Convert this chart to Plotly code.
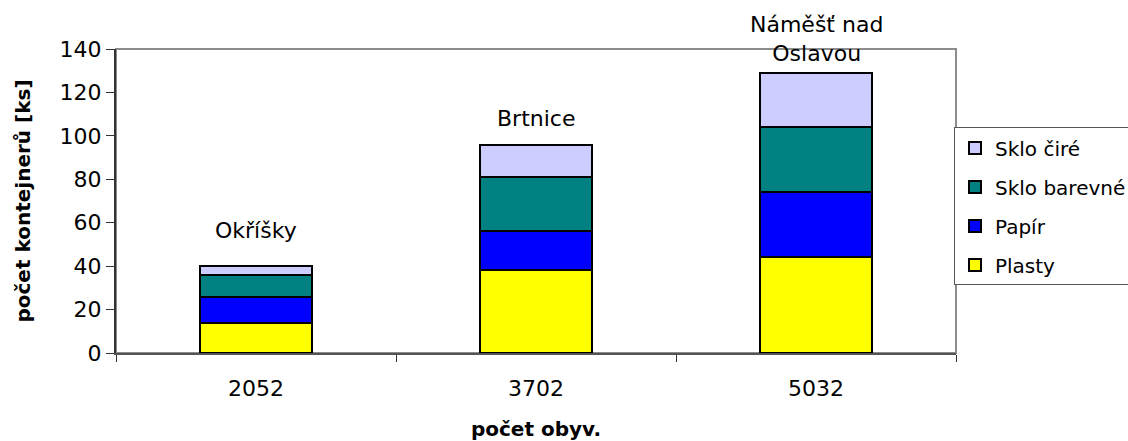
import plotly.graph_objects as go

# Containers per municipality (x axis: number of inhabitants)
obyvatele = ["2052", "3702", "5032"]
obce = ["Okříšky", "Brtnice", "Náměšť nad<br>Oslavou"]

plasty = [14, 38, 44]
papir = [12, 18, 30]
sklo_barevne = [10, 25, 30]
sklo_cire = [4, 15, 25]

serie = [
    ("Plasty", plasty, "#FFFF00"),
    ("Papír", papir, "#0000FF"),
    ("Sklo barevné", sklo_barevne, "#008080"),
    ("Sklo čiré", sklo_cire, "#CCCCFF"),
]

FONT = "DejaVu Sans, Arial, sans-serif"

fig = go.Figure()
for i, (name, vals, color) in enumerate(serie):
    fig.add_trace(go.Bar(
        x=obyvatele, y=vals, name=name, legendgroup=name,
        legendrank=len(serie) - i,
        marker=dict(color=color, line=dict(color="black", width=2)),
        width=0.4,
    ))

# municipality names above each stacked column
totals = [sum(v) for v in zip(plasty, papir, sklo_barevne, sklo_cire)]
label_shift = [21, 12, 5]
for idx, (t, name, dy) in enumerate(zip(totals, obce, label_shift)):
    fig.add_annotation(x=idx, y=t, text=name, showarrow=False, yanchor="bottom",
                       yshift=dy, font=dict(size=22, color="black", family=FONT))

# plot-area frame
fig.add_shape(type="rect", xref="paper", yref="paper", x0=0, x1=1, y0=0, y1=1,
              line=dict(color="#8c8c8c", width=2), layer="below")

fig.update_layout(
    barmode="stack",
    width=1128, height=441,
    margin=dict(l=116, r=172, t=49, b=88, autoexpand=False),
    paper_bgcolor="white", plot_bgcolor="white",
    font=dict(family=FONT, size=22, color="black"),
    showlegend=True,
    legend=dict(
        x=0.9976, xanchor="left", y=0.742, yanchor="top",
        traceorder="grouped", tracegroupgap=10,
        bordercolor="#555555", borderwidth=1, bgcolor="white",
        font=dict(size=20, family=FONT, color="black"),
        itemwidth=30,
    ),
    xaxis=dict(
        type="category", range=[-0.5, 2.5], tickson="boundaries",
        ticks="outside", ticklen=7,
        tickcolor="#333333", showline=True, linecolor="#555555", linewidth=2,
        ticklabelstandoff=15, showgrid=False,
        title=dict(text="<b>počet obyv.</b>", standoff=24,
                   font=dict(size=20, family=FONT)),
    ),
    yaxis=dict(
        range=[0, 140], dtick=20, ticks="outside", ticklen=8,
        tickcolor="#333333", showline=True, linecolor="#333333", linewidth=2,
        showgrid=False, zeroline=False,
        title=dict(text="<b>počet kontejnerů [ks]</b>", standoff=24,
                   font=dict(size=20, family=FONT)),
    ),
)

fig.write_html("out.html")
